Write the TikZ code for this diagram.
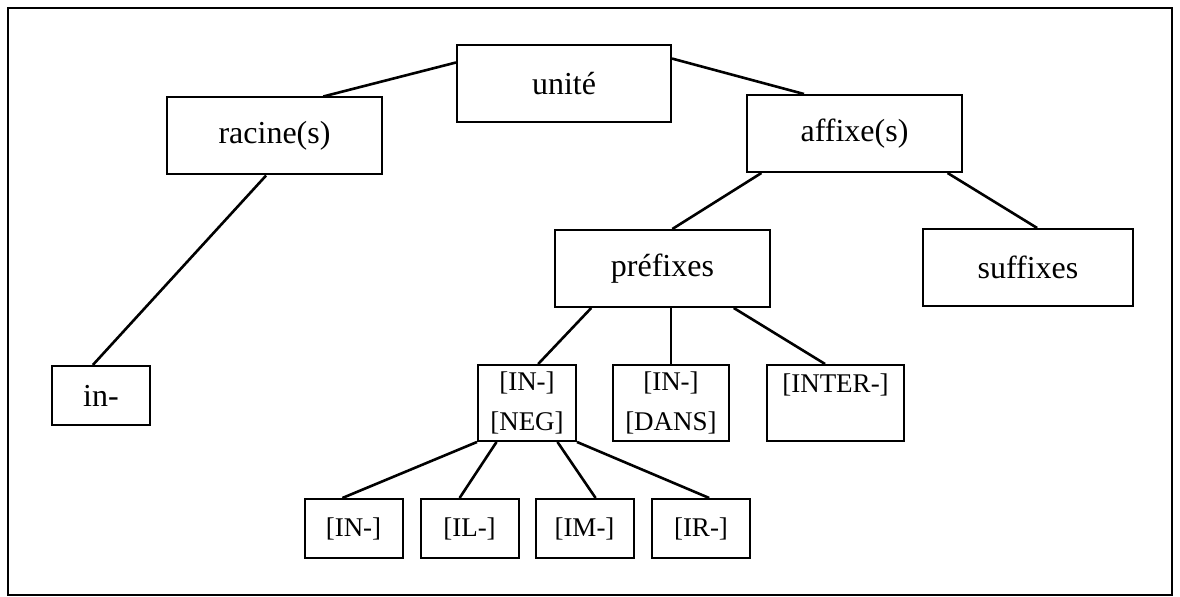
\documentclass[tikz,border=0pt]{standalone}
\usepackage{fontspec}
\setmainfont{Liberation Serif}
\tikzset{
  unitbox/.style={draw, line width=1pt, inner sep=0pt, minimum height=38.5pt,
    font=\fontsize{16}{19}\selectfont},
  morphbox/.style={draw, line width=1pt, inner sep=0pt, align=center,
    font=\fontsize{13.5}{20}\selectfont},
  branch/.style={line width=1.3pt},
}
\begin{document}
\begin{tikzpicture}[x=0.5pt, y=-0.5pt]
    \useasboundingbox (0,0) rectangle (1180,597);
    \draw[line width=1.2pt] (8,8) rectangle (1172,595);
    % upper levels
    \node[unitbox, minimum width=107pt] (unite) at (564,83.5) {unité};
    \node[unitbox, minimum width=107.5pt] (racine) at (274.5,136) {racine(s)};
    \node[unitbox, minimum width=107.5pt] (affixe) at (854.5,133.5) {affixe(s)};
    \node[unitbox, minimum width=107.5pt] (prefixes) at (662.5,268.5) {préfixes};
    \node[unitbox, minimum width=105pt] (suffixes) at (1028,267.5) {suffixes};
    \node[unitbox, minimum width=49pt, minimum height=29.5pt] (rin) at (101,395.5) {in-};
    % prefixes
    \node[morphbox, minimum width=49pt, minimum height=38pt] (neg) at (527,403) {[IN-]\\{}[NEG]};
    \node[morphbox, minimum width=58pt, minimum height=38pt] (dans) at (671,403) {[IN-]\\{}[DANS]};
    \node[morphbox, minimum width=68.5pt, minimum height=38pt] (inter) at (835.5,403) {[INTER-]\\\mbox{}};
    \foreach \name/\x/\txt in {nin/353.5/IN, nil/469.5/IL, nim/584.5/IM, nir/701/IR}
        \node[morphbox, minimum width=49pt, minimum height=29.5pt] (\name) at (\x,528.5) {[\txt-]};
    % branches
    \draw[branch] (unite.169) -- (racine.39);
    \draw[branch] (unite.13) -- (affixe.142);
    \draw[branch] (racine.258) -- (rin.105);
    \draw[branch] (affixe.203) -- (prefixes.76);
    \draw[branch] (affixe.337) -- (suffixes.77);
    \draw[branch] (prefixes.209) -- (neg.74);
    \draw[branch] (prefixes.south -| dans) -- (dans.north);
    \draw[branch] (prefixes.331) -- (inter.105);
    \foreach \name/\a/\b in {nin/south west/110, nil/232/108, nim/308/70, nir/south east/75}
        \draw[branch] (neg.\a) -- (\name.\b);
\end{tikzpicture}
\end{document}
